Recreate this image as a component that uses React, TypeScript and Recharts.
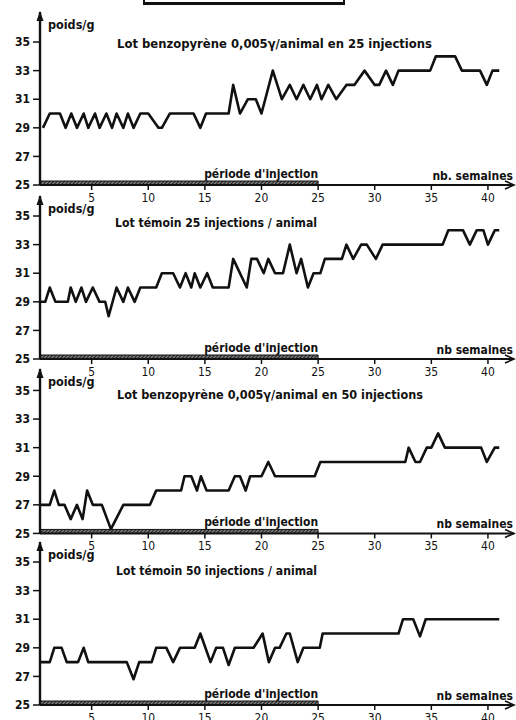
import React from 'react'
import { LineChart, Line, XAxis, YAxis, ReferenceArea, ReferenceDot } from 'recharts'

const semainesA = [
  0.7, 1.3, 2.2, 2.7, 3.2, 3.7, 4.3, 4.7, 5.3, 5.7,
  6.3, 6.8, 7.2, 7.8, 8.2, 8.7, 9.3, 10.0, 10.9, 11.2,
  11.9, 14.0, 14.6, 15.1, 17.1, 17.5, 18.1, 18.8, 19.5, 20.0,
  21.0, 21.8, 22.5, 23.1, 23.7, 24.3, 24.9, 25.3, 25.9, 26.6,
  27.5, 28.2, 29.1, 30.0, 30.4, 31.0, 31.6, 32.1, 34.9, 35.4,
  37.1, 37.7, 39.3, 39.9, 40.4, 41.0
]
const poidsA = [
  29, 30, 30, 29, 30, 29, 30, 29, 30, 29,
  30, 29, 30, 29, 30, 29, 30, 30, 29, 29,
  30, 30, 29, 30, 30, 32, 30, 31, 31, 30,
  33, 31, 32, 31, 32, 31, 32, 31, 32, 31,
  32, 32, 33, 32, 32, 33, 32, 33, 33, 34,
  34, 33, 33, 32, 33, 33
]

const semainesB = [
  0.5, 0.9, 1.3, 1.8, 2.9, 3.15, 3.6, 4.1, 4.5, 5.1,
  5.7, 6.2, 6.5, 7.2, 7.8, 8.2, 8.8, 9.3, 10.7, 11.2,
  12.2, 12.8, 13.3, 13.8, 14.1, 14.6, 15.2, 15.7, 17.1, 17.5,
  18.7, 19.1, 19.6, 20.2, 20.6, 21.2, 21.9, 22.5, 23.1, 23.5,
  24.1, 24.6, 25.2, 25.6, 27.1, 27.5, 28.1, 28.8, 29.3, 30.1,
  30.7, 36.0, 36.5, 37.8, 38.4, 39.0, 39.6, 40.0, 40.6, 41.0
]
const poidsB = [
  29, 29, 30, 29, 29, 30, 29, 30, 29, 30,
  29, 29, 28, 30, 29, 30, 29, 30, 30, 31,
  31, 30, 31, 30, 31, 30, 31, 30, 30, 32,
  30, 32, 32, 31, 32, 31, 31, 33, 31, 32,
  30, 31, 31, 32, 32, 33, 32, 33, 33, 32,
  33, 33, 34, 34, 33, 34, 34, 33, 34, 34
]

const semainesC = [
  0.5, 1.3, 1.7, 2.1, 2.6, 3.15, 3.7, 4.2, 4.6, 5.1,
  5.9, 6.7, 7.8, 10.15, 10.7, 12.9, 13.2, 13.8, 14.3, 14.65,
  15.15, 17.1, 17.65, 18.1, 18.6, 19.0, 20.0, 20.6, 21.2, 24.7,
  25.2, 32.7, 33.0, 33.6, 34.0, 34.6, 35.0, 35.6, 36.2, 39.4,
  39.9, 40.6, 41.0
]
const poidsC = [
  27, 27, 28, 27, 27, 26, 27, 26, 28, 27,
  27, 25.3, 27, 27, 28, 28, 29, 29, 28, 29,
  28, 28, 29, 29, 28, 29, 29, 30, 29, 29,
  30, 30, 31, 30, 30, 31, 31, 32, 31, 31,
  30, 31, 31
]

const semainesD = [
  0.5, 1.3, 1.7, 2.35, 2.8, 3.8, 4.3, 4.7, 8.1, 8.7,
  9.2, 10.3, 10.7, 11.6, 12.2, 12.8, 14.1, 14.6, 15.5, 16.0,
  16.6, 17.1, 17.65, 19.3, 20.1, 20.65, 21.2, 21.6, 22.2, 22.5,
  23.2, 23.7, 25.15, 25.4, 32.1, 32.5, 33.4, 34.0, 34.5, 41.0
]
const poidsD = [
  28, 28, 29, 29, 28, 28, 29, 28, 28, 26.8,
  28, 28, 29, 29, 28, 29, 29, 30, 28, 29,
  29, 27.8, 29, 29, 30, 28, 29, 29, 30, 30,
  28, 29, 29, 30, 30, 31, 31, 29.8, 31, 31
]

const yTicks = [25, 27, 29, 31, 33, 35]
const xTicks = [5, 10, 15, 20, 25, 30, 35, 40]

const X_MIN = 0.44
const X_MAX = 42.3
const FIN_INJECTION = 25
const PX_PAR_G = 14.3
const INK = '#111'
const FONT = "'Liberation Sans Narrow', 'DejaVu Sans Condensed', 'Liberation Sans', Arial, sans-serif"

const panneaux = [
  { semaines: semainesA, poids: poidsA, base: 185, yMax: 37.1, unite: 'nb. semaines',
    titre: 'Lot benzopyrène 0,005γ/animal en 25 injections', tx: 117, ty: 48, tl: 315 },
  { semaines: semainesB, poids: poidsB, base: 359, yMax: 36.4, unite: 'nb semaines',
    titre: 'Lot témoin 25 injections / animal', tx: 115, ty: 227, tl: 202 },
  { semaines: semainesC, poids: poidsC, base: 533, yMax: 36.5, unite: 'nb semaines',
    titre: 'Lot benzopyrène 0,005γ/animal en 50 injections', tx: 117, ty: 399, tl: 306 },
  { semaines: semainesD, poids: poidsD, base: 705.5, yMax: 36.4, unite: 'nb semaines',
    titre: 'Lot témoin 50 injections / animal', tx: 116, ty: 575, tl: 201 },
]

function Panneau({ p, i }: { p: any; i: number }) {
  const plotH = (p.yMax - 25) * PX_PAR_G
  const data = p.semaines.map((w: number, k: number) => ({ w, poids: p.poids[k] }))
  return (
    <div style={{ position: 'absolute', left: 0, top: p.base - plotH - 2 }}>
      <LineChart width={516} height={plotH + 30} data={data} margin={{ top: 2, right: 2, bottom: 0, left: 0 }}>
        <defs>
          <pattern id={`hachure-${i}`} width="2.6" height="2.6" patternUnits="userSpaceOnUse" patternTransform="rotate(45)">
            <rect width="2.6" height="2.6" fill="#777" />
            <line x1="0" y1="0" x2="0" y2="2.6" stroke={INK} strokeWidth="1.6" />
          </pattern>
        </defs>
        <XAxis
          type="number"
          dataKey="w"
          domain={[X_MIN, X_MAX]}
          ticks={xTicks}
          interval={0}
          allowDataOverflow
          height={28}
          axisLine={{ stroke: INK, strokeWidth: 2 }}
          tickLine={{ stroke: INK, strokeWidth: 1.5 }}
          tickSize={5}
          tickMargin={3}
          tick={{ fill: INK, fontSize: 12, fontFamily: FONT }}
        />
        <YAxis
          type="number"
          domain={[25, p.yMax]}
          ticks={yTicks}
          interval={0}
          allowDataOverflow
          width={40}
          axisLine={{ stroke: INK, strokeWidth: 2.4 }}
          tickLine={{ stroke: INK, strokeWidth: 1.5 }}
          tickSize={7}
          tickMargin={3}
          tick={{ fill: INK, fontSize: 12, fontWeight: 'bold', fontFamily: FONT }}
        />
        <ReferenceArea
          x1={X_MIN}
          x2={FIN_INJECTION}
          y1={25}
          y2={25.28}
          ifOverflow="visible"
          fill={`url(#hachure-${i})`}
          fillOpacity={1}
          stroke={INK}
          strokeWidth={1}
        />
        <ReferenceDot
          x={FIN_INJECTION}
          y={25.28}
          r={1}
          ifOverflow="visible"
          shape={(s: any) => (
            <text x={s.cx} y={s.cy - 3} textAnchor="end" fontSize={12} fontWeight="bold" fontFamily={FONT} fill={INK}>
              période d'injection
            </text>
          )}
        />
        <ReferenceDot
          x={X_MAX}
          y={25}
          r={1}
          ifOverflow="visible"
          shape={(s: any) => (
            <g>
              <path d={`M${s.cx - 9},${s.cy - 4} L${s.cx},${s.cy} L${s.cx - 9},${s.cy + 4}`} fill="none" stroke={INK} strokeWidth={1.6} />
              <text x={s.cx - 1} y={s.cy - 5} textAnchor="end" fontSize={12} fontWeight="bold" fontFamily={FONT} fill={INK}>
                {p.unite}
              </text>
            </g>
          )}
        />
        <ReferenceDot
          x={X_MIN}
          y={p.yMax}
          r={1}
          ifOverflow="visible"
          shape={(s: any) => (
            <g>
              <path d={`M${s.cx},${s.cy - 1} L${s.cx - 3.5},${s.cy + 9} L${s.cx + 3.5},${s.cy + 9} Z`} fill={INK} />
              <text x={s.cx + 8} y={s.cy + 17} fontSize={12.5} fontWeight="bold" fontFamily={FONT} fill={INK}>
                poids/g
              </text>
            </g>
          )}
        />
        <Line
          type="linear"
          dataKey="poids"
          stroke={INK}
          strokeWidth={2.6}
          strokeLinejoin="round"
          dot={false}
          activeDot={false}
          isAnimationActive={false}
        />
      </LineChart>
    </div>
  )
}

export default function App() {
  return (
    <div style={{ position: 'absolute', left: 0, top: 0, width: 516, height: 720, overflow: 'hidden', background: '#fff' }}>
      <div style={{ position: 'absolute', left: 143, top: -4, width: 198, height: 4, border: `2px solid ${INK}`, borderBottomWidth: 3 }} />
      {panneaux.map((p, i) => (
        <Panneau key={i} p={p} i={i} />
      ))}
      <svg width={516} height={720} style={{ position: 'absolute', left: 0, top: 0, pointerEvents: 'none' }}>
        {panneaux.map((p, i) => (
          <text key={i} x={p.tx} y={p.ty} textLength={p.tl} lengthAdjust="spacingAndGlyphs" fontSize={13} fontWeight="bold" fontFamily={FONT} fill={INK}>
            {p.titre}
          </text>
        ))}
      </svg>
    </div>
  )
}
